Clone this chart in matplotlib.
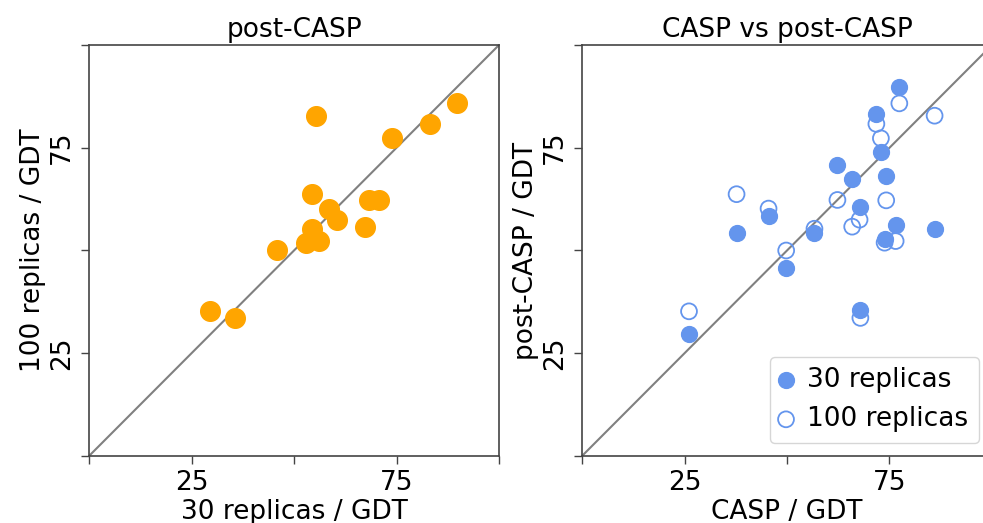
import numpy as np
import matplotlib
matplotlib.use("Agg")
import matplotlib.pyplot as plt

# GDT scores per target (16 targets)
casp = [26.1, 37.7, 45.5, 49.8, 56.7, 62.3, 65.9, 67.7, 67.9, 71.8, 72.9, 74.2, 73.8, 76.5, 77.4, 86.0]
post_30 = [29.6, 54.3, 58.5, 45.8, 54.3, 70.7, 67.4, 60.5, 35.5, 83.1, 73.9, 68.2, 52.9, 56.2, 89.7, 55.3]
post_100 = [35.2, 63.7, 60.2, 50.0, 55.3, 62.3, 55.8, 57.5, 33.6, 80.8, 77.3, 62.2, 51.9, 52.3, 85.8, 82.8]

ticks = [0, 25, 50, 75, 100]
tick_labels = ['', '25', '', '75', '']

plt.rcParams['font.size'] = 19

fig = plt.figure(figsize=(9.83, 5.23), dpi=100)
W, H = 983, 523
ax1 = fig.add_axes([89 / W, (H - 456) / H, 410 / W, 411 / H])
ax2 = fig.add_axes([582 / W, (H - 456) / H, 410 / W, 411 / H])

def style(ax):
    ax.plot([0, 100], [0, 100], color='gray', lw=1.5, zorder=1)
    ax.set_xlim(0, 100)
    ax.set_ylim(0, 100)
    ax.set_xticks(ticks)
    ax.set_xticklabels(tick_labels)
    ax.set_yticks(ticks)
    ax.set_yticklabels(tick_labels, rotation=90, va='center')
    ax.tick_params(length=6, width=1, color='#444444', pad=4)
    for sp in ax.spines.values():
        sp.set_color('#444444')
        sp.set_linewidth(1.2)

style(ax1)
ax1.scatter(post_30, post_100, s=200, color='orange', zorder=2)
ax1.set_title('post-CASP', fontsize=19)
ax1.set_xlabel('30 replicas / GDT', labelpad=2)
ax1.set_ylabel('100 replicas / GDT', labelpad=2)

style(ax2)
ax2.scatter(casp, post_30, s=130, color='cornflowerblue', zorder=3, label='30 replicas')
ax2.scatter(casp, post_100, s=130, facecolors='none', edgecolors='cornflowerblue',
            linewidths=1.3, zorder=2, label='100 replicas')
ax2.set_title('CASP vs post-CASP', fontsize=19)
ax2.set_xlabel('CASP / GDT', labelpad=2)
ax2.set_ylabel('post-CASP / GDT', labelpad=2)
ax2.legend(loc='lower right', handlelength=0.4, handletextpad=0.6, borderaxespad=0.5)

fig.savefig('out.png', dpi=100)
